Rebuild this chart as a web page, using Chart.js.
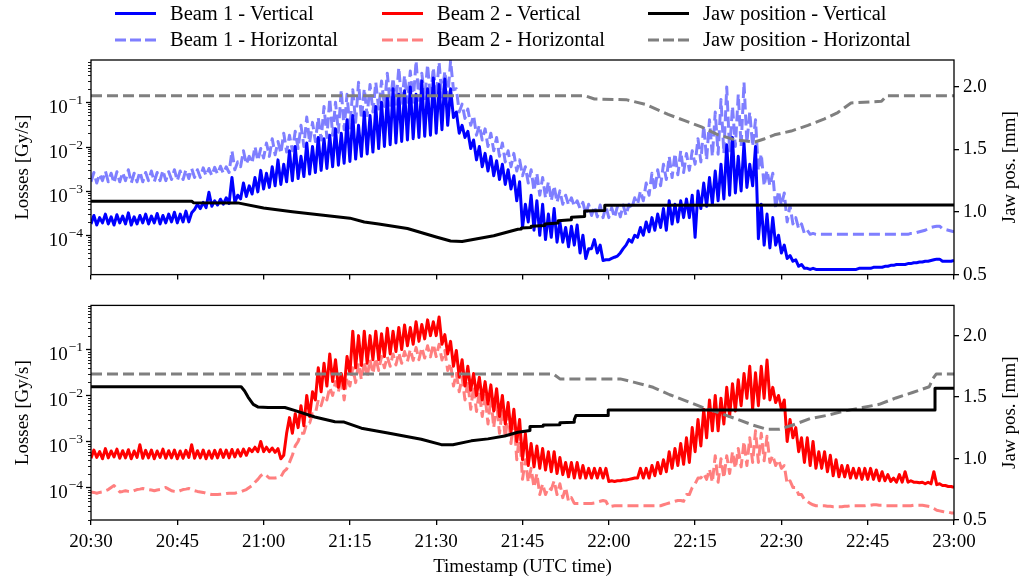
<!DOCTYPE html>
<html><head><meta charset="utf-8">
<script src="https://cdn.jsdelivr.net/npm/chart.js@4.4.0/dist/chart.umd.min.js"></script>
<style>
html,body{margin:0;padding:0;background:#fff;}
#wrap{position:relative;width:1027px;height:581px;overflow:hidden;background:#fff;}
canvas{position:absolute;left:0;}
#c1{top:0;} #c2{top:290px;}
#legend{position:absolute;left:0;top:0;}
</style></head><body>
<div id="wrap">
<canvas id="c1" width="1027" height="290"></canvas>
<canvas id="c2" width="1027" height="291"></canvas>
<svg id="legend" width="1027" height="56" xmlns="http://www.w3.org/2000/svg"></svg>
</div>
<script>
// ---- time axis (minutes after 20:30; each loss array index = minute) ----
const tickMinutes = [0,15,30,45,60,75,90,105,120,135,150];
const tickLabels = ['20:30','20:45','21:00','21:15','21:30','21:45','22:00','22:15','22:30','22:45','23:00'];
const logTickExponents = [-5,-4,-3,-2,-1];
const jawTicks = [0.5,1.0,1.5,2.0];

// ---- Top panel: Beam 1 losses [Gy/s], floor value at minute i and spike value at i+0.5 ----
const b1vBase = [
1.8e-4,1.7e-4,1.9e-4,1.8e-4,1.7e-4,1.9e-4,1.8e-4,1.7e-4,1.8e-4,1.9e-4,
1.8e-4,1.9e-4,1.8e-4,1.9e-4,2.0e-4,1.9e-4,2.0e-4,2.0e-4,3.8e-4,4.0e-4,
4.2e-4,4.5e-4,4.8e-4,5.0e-4,5.2e-4,5.5e-4,6.6e-4,7.5e-4,8.5e-4,9.5e-4,
1.1e-3,1.2e-3,1.3e-3,1.4e-3,1.6e-3,1.7e-3,1.9e-3,2.1e-3,2.4e-3,2.6e-3,
2.9e-3,3.2e-3,3.5e-3,3.8e-3,4.2e-3,4.6e-3,5.2e-3,6.0e-3,6.8e-3,7.5e-3,
9e-3,1.0e-2,1.1e-2,1.2e-2,1.3e-2,1.4e-2,1.5e-2,1.6e-2,1.7e-2,1.8e-2,
2.0e-2,2.4e-2,3.0e-2,4.5e-2,2.0e-2,1.6e-2,9e-3,5e-3,3.5e-3,2.8e-3,
2.2e-3,1.8e-3,1.4e-3,1.1e-3,6e-4,1.5e-4,2e-4,1.3e-4,1e-4,8e-5,
9e-5,7e-5,7e-5,5.5e-5,6e-5,4e-5,3e-5,5e-5,4e-5,2.7e-5,
2.8e-5,3.2e-5,4e-5,6e-5,7e-5,9e-5,1e-4,1.2e-4,1.3e-4,1.5e-4,
1.3e-4,1.8e-4,2e-4,2.5e-4,2.5e-4,9e-5,4e-4,4.5e-4,5e-4,6e-4,
6.6e-4,8e-4,9e-4,1e-3,1.2e-3,1.3e-3,8.4e-5,6e-5,5.2e-5,6e-5,
4e-5,3e-5,2.6e-5,2e-5,1.8e-5,1.7e-5,1.7e-5,1.7e-5,1.7e-5,1.7e-5,
1.7e-5,1.7e-5,1.7e-5,1.7e-5,1.8e-5,1.8e-5,1.9e-5,1.9e-5,2e-5,2.1e-5,
2.2e-5,2.2e-5,2.3e-5,2.4e-5,2.5e-5,2.6e-5,2.7e-5,2.9e-5,2.6e-5,2.6e-5,
2.7e-5];
const b1vPeak = [
2.8e-4,2.5e-4,3.0e-4,2.6e-4,2.9e-4,2.7e-4,3.2e-4,2.6e-4,2.8e-4,3.0e-4,
2.7e-4,3.1e-4,2.8e-4,3.0e-4,3.3e-4,3.0e-4,3.5e-4,3.2e-4,5.0e-4,5.5e-4,
9.3e-4,6.0e-4,6.5e-4,7.0e-4,2.0e-3,8.0e-4,1.5e-3,1.3e-3,2.0e-3,2.9e-3,
2.5e-3,3.5e-3,5e-3,4e-3,8e-3,1e-2,6e-3,1.2e-2,1e-2,1.6e-2,
1.5e-2,1.8e-2,2.5e-2,2e-2,4e-2,5e-2,3e-2,6e-2,5e-2,8e-2,
0.1,0.13,0.2,0.15,0.18,0.22,0.15,0.3,0.2,0.35,
0.25,0.33,0.2,0.06,0.03,0.022,1.4e-2,1e-2,7e-3,6e-3,
4.8e-3,4e-3,3e-3,2.2e-3,1.6e-3,5e-4,8e-4,6e-4,5e-4,3e-4,
4e-4,2e-4,1.5e-4,1.6e-4,1.7e-4,1e-4,5e-5,8e-5,6e-5,2.8e-5,
3e-5,3.4e-5,5e-5,8e-5,1e-4,1.5e-4,2e-4,2.5e-4,3e-4,4e-4,
6e-4,5e-4,6e-4,6.6e-4,8e-4,1e-3,1.5e-3,2e-3,2.8e-3,4e-3,
1.1e-2,1.6e-2,6e-3,1.2e-2,4e-3,1e-2,5e-4,3e-4,2.5e-4,1e-4,
6e-5,3.5e-5,2.8e-5,2.2e-5,1.8e-5,1.8e-5,1.7e-5,1.7e-5,1.7e-5,1.7e-5,
1.7e-5,1.7e-5,1.7e-5,1.8e-5,1.8e-5,1.8e-5,1.9e-5,1.9e-5,2e-5,2.1e-5,
2.2e-5,2.2e-5,2.3e-5,2.4e-5,2.5e-5,2.6e-5,2.8e-5,2.9e-5,2.6e-5,2.6e-5];
const b1hBase = [
1.6e-3,1.5e-3,1.7e-3,1.6e-3,1.5e-3,1.6e-3,1.7e-3,1.5e-3,1.6e-3,1.6e-3,
1.7e-3,1.6e-3,1.7e-3,1.7e-3,1.8e-3,1.7e-3,1.8e-3,1.9e-3,2.0e-3,2.0e-3,
2.2e-3,2.2e-3,2.4e-3,2.5e-3,2.6e-3,3.0e-3,3.5e-3,4.0e-3,4.2e-3,4.8e-3,
5.5e-3,6e-3,6.5e-3,7e-3,7.5e-3,8e-3,9e-3,1e-2,1.2e-2,1.3e-2,
1.4e-2,1.6e-2,1.8e-2,2.1e-2,2.4e-2,2.6e-2,3.5e-2,4.2e-2,5e-2,6e-2,
7e-2,8e-2,8.5e-2,9e-2,9.5e-2,0.1,0.1,0.11,0.12,0.12,
0.13,0.13,0.13,0.19,0.06,0.043,0.03,0.018,0.014,0.01,
8e-3,6e-3,4.5e-3,3.5e-3,2.8e-3,2.2e-3,1.5e-3,1e-3,8e-4,7e-4,
6e-4,5.5e-4,5e-4,4.8e-4,4.5e-4,4e-4,3e-4,2.8e-4,2.6e-4,2.5e-4,
2.5e-4,2.5e-4,2.6e-4,2.8e-4,4e-4,5e-4,6e-4,8e-4,1e-3,1.3e-3,
1.8e-3,2e-3,2.3e-3,2.6e-3,2.9e-3,4e-3,4.5e-3,5e-3,6e-3,6.7e-3,
7e-3,8e-3,1e-2,1e-2,1.2e-2,1e-2,2.9e-3,1.3e-3,1.3e-3,4.1e-4,
4.7e-4,2e-4,1.8e-4,1.4e-4,1.1e-4,1.05e-4,1.05e-4,1.05e-4,1.05e-4,1.05e-4,
1.05e-4,1.05e-4,1.05e-4,1.05e-4,1.05e-4,1.05e-4,1.05e-4,1.05e-4,1.05e-4,1.05e-4,
1.05e-4,1.05e-4,1.05e-4,1.1e-4,1.2e-4,1.3e-4,1.5e-4,1.6e-4,1.4e-4,1.3e-4,
1.2e-4];
const b1hPeak = [
2.6e-3,2.4e-3,2.8e-3,2.5e-3,2.7e-3,2.6e-3,3.0e-3,2.5e-3,2.7e-3,2.6e-3,
2.8e-3,2.6e-3,2.9e-3,2.7e-3,3.0e-3,2.8e-3,3.0e-3,3.2e-3,3.0e-3,3.3e-3,
3.2e-3,3.4e-3,3.6e-3,3.5e-3,8e-3,4.5e-3,8e-3,6e-3,1e-2,9e-3,
1.2e-2,1.5e-2,1.3e-2,2e-2,1.8e-2,2.2e-2,3e-2,4.6e-2,3.5e-2,4.5e-2,
8e-2,0.12,0.1,0.19,0.15,0.19,0.28,0.2,0.25,0.28,
0.3,0.45,0.35,0.6,0.4,0.5,0.85,0.45,0.7,0.6,
0.8,0.5,0.85,0.2,0.09,0.07,0.05,0.03,0.025,0.02,
1.6e-2,1.2e-2,8e-3,7e-3,5e-3,3.5e-3,3e-3,2.5e-3,2e-3,1.6e-3,
1.3e-3,1e-3,8e-4,7e-4,6e-4,5.5e-4,5e-4,4.5e-4,4.8e-4,4.5e-4,
4.2e-4,4.5e-4,4.8e-4,5e-4,7e-4,1e-3,1.5e-3,2.5e-3,3e-3,4e-3,
6e-3,7e-3,8e-3,7e-3,8e-3,1.5e-2,3e-2,4e-2,6e-2,0.115,
0.22,0.08,0.15,0.28,0.06,0.04,6.8e-3,2.9e-3,2.5e-3,1e-3,
9e-4,4.7e-4,2.5e-4,1.8e-4,1.3e-4,1.1e-4,1.05e-4,1.05e-4,1.05e-4,1.05e-4,
1.05e-4,1.05e-4,1.05e-4,1.05e-4,1.05e-4,1.05e-4,1.05e-4,1.05e-4,1.05e-4,1.05e-4,
1.05e-4,1.05e-4,1.1e-4,1.15e-4,1.25e-4,1.4e-4,1.55e-4,1.6e-4,1.35e-4,1.25e-4];

// ---- Bottom panel: Beam 2 losses [Gy/s] ----
const b2vBase = [
4.3e-4,4.5e-4,4.2e-4,4.4e-4,4.6e-4,4.3e-4,4.4e-4,4.2e-4,4.5e-4,4.3e-4,
4.4e-4,4.2e-4,4.5e-4,4.3e-4,4.4e-4,4.2e-4,4.3e-4,4.5e-4,4.3e-4,4.4e-4,
4.2e-4,4.3e-4,4.4e-4,4.5e-4,4.4e-4,4.6e-4,4.8e-4,5e-4,6e-4,6e-4,
6e-4,6e-4,5.8e-4,4.2e-4,1.5e-3,1.5e-3,2e-3,2.2e-3,3.5e-3,8e-3,
1.2e-2,1.6e-2,2e-2,1.5e-2,1.4e-2,3e-2,4e-2,4.5e-2,5e-2,6e-2,
6e-2,7e-2,8e-2,9e-2,0.1,0.12,0.13,0.15,0.17,0.2,
0.2,0.13,0.08,0.043,0.025,0.016,0.013,0.01,8e-3,6.5e-3,
4.6e-3,3.5e-3,2.4e-3,1.6e-3,1e-3,4e-4,3e-4,2.8e-4,2.6e-4,2.4e-4,
2.2e-4,2e-4,1.9e-4,1.7e-4,1.6e-4,1.6e-4,1.6e-4,1.6e-4,1.6e-4,1.6e-4,
1.35e-4,1.35e-4,1.4e-4,1.45e-4,1.55e-4,1.6e-4,1.6e-4,1.6e-4,1.8e-4,2e-4,
2.2e-4,2.6e-4,3e-4,3.2e-4,3.5e-4,6e-4,8e-4,1.2e-3,1.7e-3,1.7e-3,
2.4e-3,3.5e-3,4.6e-3,6e-3,8.7e-3,5e-3,6e-3,8.7e-3,8e-3,7e-3,
5e-3,1e-3,1.2e-3,6e-4,3.5e-4,3e-4,2.6e-4,2.6e-4,2.2e-4,1.8e-4,
1.7e-4,1.7e-4,1.6e-4,1.6e-4,1.5e-4,1.5e-4,1.5e-4,1.4e-4,1.4e-4,1.35e-4,
1.3e-4,1.3e-4,1.3e-4,1.3e-4,1.26e-4,1.2e-4,1.2e-4,1.15e-4,1.1e-4,1.05e-4,
1e-4];
const b2vPeak = [
6.5e-4,6e-4,7e-4,6.2e-4,6.8e-4,6.3e-4,6.6e-4,6.2e-4,8.5e-4,6.4e-4,
6.5e-4,6.2e-4,6.8e-4,6.3e-4,6.5e-4,6.2e-4,6.4e-4,8.5e-4,6.3e-4,6.5e-4,
6.2e-4,6.4e-4,6.6e-4,6.5e-4,6.7e-4,6.6e-4,6.8e-4,7e-4,7.5e-4,1e-3,
7.5e-4,7.2e-4,7e-4,5e-4,3.3e-3,4e-3,6e-3,1e-2,1.2e-2,4e-2,
5e-2,8e-2,6e-2,3e-2,7e-2,0.25,0.2,0.25,0.2,0.25,
0.22,0.29,0.25,0.3,0.34,0.3,0.4,0.35,0.44,0.4,
0.51,0.21,0.15,0.095,0.06,0.043,0.03,0.025,0.02,0.017,
0.014,0.01,7e-3,5e-3,3e-3,1.5e-3,9e-4,8e-4,7e-4,6e-4,
6e-4,4.5e-4,3.5e-4,3.5e-4,3.5e-4,3e-4,2.6e-4,2.6e-4,2.6e-4,2.6e-4,
1.4e-4,1.4e-4,1.45e-4,1.5e-4,1.6e-4,2.6e-4,2.6e-4,3e-4,3.5e-4,4e-4,
6e-4,7e-4,9e-4,1.2e-3,2e-3,3e-3,5e-3,8e-3,1e-2,8.7e-3,
1.5e-2,1.8e-2,2.2e-2,3e-2,4.3e-2,3.1e-2,4.3e-2,5.9e-2,1.5e-2,1e-2,
8e-3,3e-3,2e-3,1.2e-3,1.2e-3,1e-3,6e-4,6e-4,5e-4,4e-4,
3e-4,3e-4,2.6e-4,2.6e-4,2.6e-4,2.6e-4,2.4e-4,2.2e-4,1.9e-4,1.6e-4,
1.9e-4,2.2e-4,1.4e-4,1.3e-4,1.3e-4,1.3e-4,2.2e-4,1.2e-4,1.1e-4,1.05e-4];
const b2hBase = [
8e-5,7.5e-5,8e-5,9e-5,1.1e-4,8e-5,8.5e-5,8e-5,9e-5,9.5e-5,
9e-5,8.5e-5,9e-5,1e-4,8.5e-5,8e-5,9e-5,9.5e-5,8.5e-5,8e-5,
7.5e-5,7e-5,7e-5,7.2e-5,7.5e-5,7.5e-5,8e-5,9e-5,1.1e-4,1.5e-4,
2e-4,1.6e-4,1.6e-4,1.7e-4,2.5e-4,5e-4,1e-3,1.5e-3,2.5e-3,4e-3,
6e-3,8e-3,1e-2,1.2e-2,8e-3,1.6e-2,1.9e-2,2.2e-2,2.5e-2,3e-2,
3.5e-2,4e-2,4.3e-2,4.6e-2,5e-2,5.5e-2,5.8e-2,6e-2,6.5e-2,6.9e-2,
7e-2,5.9e-2,3.5e-2,1.6e-2,1.2e-2,8e-3,5e-3,4.5e-3,3.5e-3,2.4e-3,
2e-3,1.5e-3,1.2e-3,9e-4,4e-4,1.5e-4,1.3e-4,1e-4,7e-5,7e-5,
9e-5,7e-5,6e-5,5e-5,4.5e-5,4.5e-5,4.5e-5,4.5e-5,4.8e-5,5.2e-5,
3.8e-5,4e-5,4e-5,4e-5,4e-5,4e-5,4e-5,4e-5,4e-5,4e-5,
4.4e-5,4.8e-5,5.2e-5,5e-5,7e-5,1.2e-4,1.6e-4,1.5e-4,1.3e-4,1.3e-4,
1.6e-4,2e-4,2.6e-4,2.8e-4,3e-4,3.5e-4,3.5e-4,3.8e-4,3.5e-4,3e-4,
2.6e-4,1.2e-4,1e-4,7e-5,5.5e-5,4.5e-5,4e-5,4e-5,3.9e-5,3.8e-5,
3.8e-5,3.9e-5,4e-5,4e-5,4e-5,4.1e-5,4.2e-5,4.1e-5,4e-5,4e-5,
4e-5,4e-5,4e-5,4.1e-5,4.1e-5,4e-5,3.8e-5,3.2e-5,3e-5,2.9e-5,
2.8e-5];
const b2hPeak = [
7.8e-5,7.8e-5,8.5e-5,1e-4,9.5e-5,8.2e-5,8.2e-5,8.5e-5,9.2e-5,9.2e-5,
8.8e-5,8.8e-5,9.5e-5,9.2e-5,8.2e-5,8.5e-5,9.2e-5,9e-5,8.2e-5,7.8e-5,
7.2e-5,7e-5,7.1e-5,7.4e-5,7.5e-5,7.8e-5,8.5e-5,1e-4,1.3e-4,1.8e-4,
1.8e-4,1.6e-4,1.65e-4,2.2e-4,3.5e-4,8e-4,1.5e-3,2.5e-3,4e-3,8e-3,
1e-2,1.5e-2,2e-2,2.5e-2,2.5e-2,4e-2,5e-2,5.5e-2,6e-2,6.5e-2,
7e-2,7e-2,8e-2,8.5e-2,9e-2,0.1,0.11,0.11,0.12,0.13,
0.13,9.5e-2,5e-2,3e-2,2.5e-2,2e-2,1.6e-2,1.2e-2,1e-2,9e-3,
7e-3,5e-3,4e-3,3.5e-3,1.5e-3,4e-4,2.6e-4,2e-4,1.2e-4,1e-4,
1.4e-4,1.2e-4,1e-4,6e-5,4.5e-5,4.5e-5,4.5e-5,4.6e-5,5e-5,5e-5,
3.9e-5,4e-5,4e-5,4e-5,4e-5,4e-5,4e-5,4e-5,4e-5,4.2e-5,
4.6e-5,5e-5,5.2e-5,7e-5,1e-4,1.6e-4,2e-4,2.5e-4,4.9e-4,4.2e-4,
4.9e-4,6e-4,7e-4,1e-3,1.2e-3,1.7e-3,1.5e-3,1.3e-3,5e-4,4e-4,
3e-4,1.4e-4,1e-4,7e-5,5e-5,4.2e-5,4e-5,4e-5,3.9e-5,3.8e-5,
3.8e-5,3.9e-5,4e-5,4e-5,4e-5,4.1e-5,4.2e-5,4.1e-5,4e-5,4e-5,
4e-5,4e-5,4e-5,4.1e-5,4.1e-5,3.9e-5,3.5e-5,3.1e-5,2.9e-5,2.8e-5];

// ---- Jaw positions [mm] (time in minutes after 20:30) ----
const jawVTopT = [0,17.5,17.8,25.5,30,35,40,45,47.5,50,55,60,62.5,64.5,70,74.2,74.8,74.8,76.5,76.5,78.9,78.9,81.2,81.2,83.5,83.5,85.8,85.8,89.3,89.3,150];
const jawVTopV = [1.087,1.087,1.075,1.073,1.033,1.003,0.977,0.951,0.92,0.905,0.868,0.8,0.768,0.765,0.81,0.862,0.865,0.872,0.876,0.887,0.893,0.905,0.912,0.931,0.938,0.959,0.965,1.008,1.012,1.054,1.056];
const jawHTopT = [0,85.8,87.5,93,96.4,100.3,103.2,106.1,109,111.9,115.4,117.1,118.8,121.7,124.6,127.5,129.8,132.1,137.4,138.3,150];
const jawHTopV = [1.93,1.93,1.903,1.898,1.86,1.78,1.73,1.68,1.617,1.578,1.56,1.586,1.617,1.647,1.693,1.745,1.795,1.872,1.885,1.93,1.93];
const jawVBotT = [0,26.1,26.7,27.3,28.2,29,30.8,33.7,35.5,38.9,42.4,44,47,51.6,57.4,60.9,62.9,66.1,69,71.9,74.2,76.3,76.3,78.6,78.6,81.5,81.5,84,84,84.3,89.9,89.9,146.7,146.7,150];
const jawVBotV = [1.584,1.584,1.55,1.5,1.441,1.42,1.415,1.415,1.39,1.338,1.299,1.297,1.247,1.208,1.157,1.113,1.113,1.144,1.16,1.183,1.214,1.228,1.26,1.262,1.273,1.275,1.291,1.295,1.317,1.351,1.351,1.395,1.395,1.571,1.571];
const jawHBotT = [0,80.4,81.5,92,94.3,97.7,100.6,103.5,106.4,109.3,112,115,117.4,119.7,122,125,127.9,131.3,134.1,137,139.9,142.8,145.7,146.3,146.9,150];
const jawHBotV = [1.687,1.687,1.648,1.648,1.622,1.58,1.519,1.467,1.415,1.37,1.325,1.273,1.239,1.239,1.273,1.325,1.351,1.39,1.415,1.441,1.493,1.537,1.584,1.648,1.687,1.687];

const seriesNames = ['Beam 1 - Vertical','Beam 1 - Horizontal','Beam 2 - Vertical','Beam 2 - Horizontal','Jaw position - Vertical','Jaw position - Horizontal'];
const seriesColors = ['#0000ff','#7f7fff','#ff0000','#ff7f7f','#000000','#7f7f7f'];
const seriesDashed = [false,true,false,true,false,true];

// ---------------------------------------------------------------
const FONT = "'Liberation Serif', 'DejaVu Serif', serif";
Chart.defaults.font.family = FONT;
Chart.defaults.color = '#000';

function zigzag(base, peak){
  const d=[];
  for(let i=0;i<base.length;i++){
    d.push({x:i,y:base[i]});
    if(i<peak.length && i<base.length-1) d.push({x:i+0.5,y:peak[i]});
  }
  return d;
}
function pairs(ts, vs){ return ts.map((t,i)=>({x:t,y:vs[i]})); }
function ds(idx, data, axis, width){
  return {label:seriesNames[idx], data, yAxisID:axis, borderColor:seriesColors[idx],
    borderWidth:width, borderDash: seriesDashed[idx]?[11,5]:[], pointRadius:0, tension:0,
    borderJoinStyle:'round', borderCapStyle:'butt', fill:false};
}

function sup(n){ return '\u2212'+String(-n); }

const decoPlugin = {
  id:'deco',
  afterDraw(chart, args, opts){
    const {ctx, chartArea:a} = chart;
    const ys = chart.scales.y;
    ctx.save();
    ctx.strokeStyle='#000'; ctx.fillStyle='#000';
    for(let e=-6;e<=0;e++){
      for(let m=1;m<=9;m++){
        const v=m*Math.pow(10,e);
        if(v<ys.min||v>ys.max) continue;
        const y=Math.round(ys.getPixelForValue(v))+0.5;
        ctx.lineWidth = m===1?1.3:0.9;
        ctx.beginPath(); ctx.moveTo(a.left-(m===1?5:3),y); ctx.lineTo(a.left,y); ctx.stroke();
        if(m===1 && logTickExponents.includes(e)){
          ctx.font = '13.5px '+FONT;
          const s = sup(e); const sw = ctx.measureText(s).width;
          ctx.textBaseline='alphabetic'; ctx.textAlign='left';
          const right = a.left-8;
          ctx.fillText(s, right-sw, y+1);
          ctx.font = '19px '+FONT;
          const tw = ctx.measureText('10').width;
          ctx.fillText('10', right-sw-tw-1, y+10);
        }
      }
    }
    ctx.lineWidth=1.3;
    ctx.strokeRect(a.left, a.top, a.right-a.left, a.bottom-a.top);
    ctx.font='19px '+FONT; ctx.textAlign='center'; ctx.textBaseline='alphabetic';
    const cy=(a.top+a.bottom)/2;
    ctx.save(); ctx.translate(28, cy); ctx.rotate(-Math.PI/2); ctx.fillText('Losses [Gy/s]',0,0); ctx.restore();
    ctx.save(); ctx.translate(1015, cy); ctx.rotate(-Math.PI/2); ctx.fillText('Jaw pos. [mm]',0,0); ctx.restore();
    ctx.restore();
  }
};

function makeChart(id, o){
  return new Chart(document.getElementById(id), {
    type:'line',
    data:{datasets:o.datasets},
    options:{
      responsive:false, animation:false, devicePixelRatio:1,
      layout:{padding:{top:o.padTop,left:0,right:0,bottom:0}},
      plugins:{legend:{display:false}, tooltip:{enabled:false}},
      scales:{
        x:{type:'linear', min:0, max:150,
          afterBuildTicks:s=>{ s.ticks = tickMinutes.map(v=>({value:v})); },
          ticks:{display:o.showX, autoSkip:false, maxRotation:0, padding:6,
            font:{size:19, family:FONT}, color:'#000',
            callback:v=>tickLabels[tickMinutes.indexOf(v)]},
          grid:{display:true, drawOnChartArea:false, drawTicks:true, tickLength:5, color:'#000', tickColor:'#000', lineWidth:1.3},
          border:{display:false},
          title:{display:o.showX, text:'Timestamp (UTC time)', font:{size:19, family:FONT}, color:'#000', padding:{top:0,bottom:3}},
          afterFit:s=>{ s.height=o.xH; }
        },
        y:{type:'logarithmic', position:'left', min:o.lmin, max:o.lmax,
          ticks:{display:false}, grid:{display:false}, border:{display:false},
          afterFit:s=>{ s.width=91; }
        },
        y1:{type:'linear', position:'right', min:0.5, max:o.rmax,
          afterBuildTicks:s=>{ s.ticks = jawTicks.map(v=>({value:v})); },
          ticks:{padding:4, font:{size:19, family:FONT}, color:'#000', callback:v=>v.toFixed(1)},
          grid:{display:true, drawOnChartArea:false, drawTicks:true, tickLength:5, color:'#000', tickColor:'#000', lineWidth:1.3},
          border:{display:false},
          afterFit:s=>{ s.width=73; }
        }
      }
    },
    plugins:[decoPlugin]
  });
}

makeChart('c1', {
  padTop:60, xH:6, showX:false, lmin:1.3e-5, lmax:0.89, rmax:2.215,
  datasets:[
    ds(4, pairs(jawVTopT, jawVTopV), 'y1', 3),
    ds(5, pairs(jawHTopT, jawHTopV), 'y1', 3),
    ds(0, zigzag(b1vBase, b1vPeak), 'y', 3),
    ds(1, zigzag(b1hBase, b1hPeak), 'y', 3)
  ]
});
makeChart('c2', {
  padTop:6, xH:61, showX:true, lmin:1.96e-5, lmax:0.908, rmax:2.246,
  datasets:[
    ds(4, pairs(jawVBotT, jawVBotV), 'y1', 3),
    ds(5, pairs(jawHBotT, jawHBotV), 'y1', 3),
    ds(2, zigzag(b2vBase, b2vPeak), 'y', 3),
    ds(3, zigzag(b2hBase, b2hPeak), 'y', 3)
  ]
});

// ---- legend (3 columns x 2 rows) ----
(function(){
  const svg = document.getElementById('legend');
  const NS='http://www.w3.org/2000/svg';
  const colX=[115,382,648], rowY=[13.5,40];
  const order=[[0,1],[2,3],[4,5]];
  order.forEach((col,ci)=>col.forEach((si,ri)=>{
    const ln=document.createElementNS(NS,'line');
    ln.setAttribute('x1',colX[ci]); ln.setAttribute('x2',colX[ci]+41);
    ln.setAttribute('y1',rowY[ri]); ln.setAttribute('y2',rowY[ri]);
    ln.setAttribute('stroke',seriesColors[si]); ln.setAttribute('stroke-width','3');
    if(seriesDashed[si]) ln.setAttribute('stroke-dasharray','11 4');
    svg.appendChild(ln);
    const tx=document.createElementNS(NS,'text');
    tx.setAttribute('x',colX[ci]+55); tx.setAttribute('y',rowY[ri]+6);
    tx.setAttribute('font-family',"Liberation Serif, serif"); tx.setAttribute('font-size','20.5');
    tx.textContent=seriesNames[si];
    svg.appendChild(tx);
  }));
})();
</script>
</body></html>
